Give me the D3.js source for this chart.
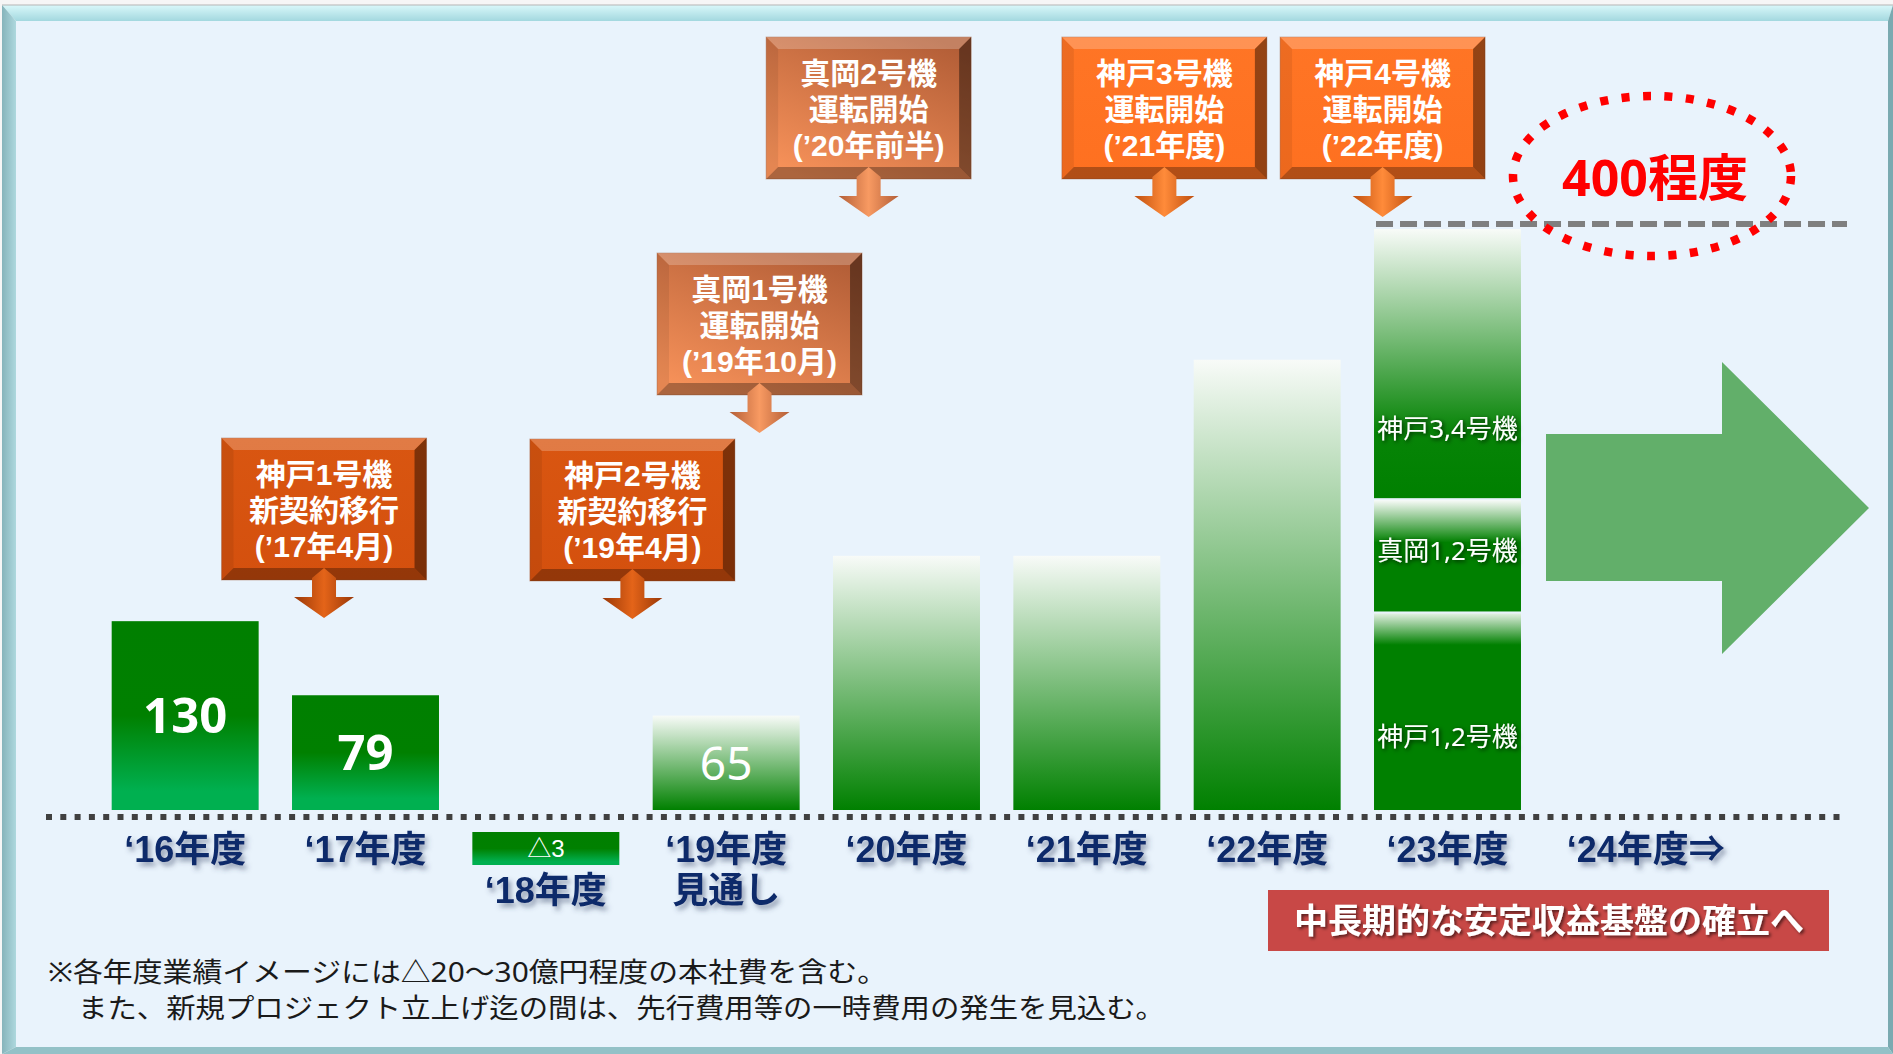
<!DOCTYPE html>
<html lang="ja">
<head>
<meta charset="utf-8">
<script src="https://cdn.jsdelivr.net/npm/d3@7"></script>
<style>
  body { margin: 0; background: #fff; }
  text { font-family: "Noto Sans", "Noto Sans CJK JP", sans-serif; }
  text.tight { font-family: "Liberation Sans", "Noto Sans CJK JP", sans-serif; }
</style>
</head>
<body>
<div id="chart"></div>
<script>
// ---- data ----
var years = ['16', '17', '18', '19', '20', '21', '22', '23', '24'];
var yearLabels = ['‘16年度', '‘17年度', '‘18年度', '‘19年度', '‘20年度', '‘21年度', '‘22年度', '‘23年度', '‘24年度'];
var yearSuffix = ['', '', '', '', '', '', '', '', '⇒'];
var subLabels = ['', '', '', '見通し', '', '', '', '', ''];
var barKind = ['実績', '実績', '実績', '見通し', '計画', '計画', '計画', '計画', ''];
var profit = [130, 79, -3, 65, 175, 175, 310, null, null];
var profitText = ['130', '79', '△3', '65', '', '', '', '', ''];

// '23年度 breakdown (bottom to top)
var stackYear = '23';
var stackUnits = ['神戸1,2号機', '真岡1,2号機', '神戸3,4号機'];
var stackValues = [136, 78, 186];

var targetValue = 400;
var targetLabel = '400程度';

var eventLines = [
  ['神戸1号機', '新契約移行', '(’17年4月)'],
  ['神戸2号機', '新契約移行', '(’19年4月)'],
  ['真岡1号機', '運転開始', '(’19年10月)'],
  ['真岡2号機', '運転開始', '(’20年前半)'],
  ['神戸3号機', '運転開始', '(’21年度)'],
  ['神戸4号機', '運転開始', '(’22年度)']
];
var eventKind = ['契約', '契約', '真岡', '真岡', '神戸', '神戸'];

var bannerText = '中長期的な安定収益基盤の確立へ';
var notes = [
  '※各年度業績イメージには△20～30億円程度の本社費を含む。',
  'また、新規プロジェクト立上げ迄の間は、先行費用等の一時費用の発生を見込む。'
];

// ---- layout ----
var W = 1893, H = 1054;
var calloutAt = [0.77, 2.48, 3.185, 3.79, 5.43, 6.64];   // in year-index units
var calloutTop = [438, 439, 253, 37, 37, 37];
var segLabelAt = [0.63, 0.46, 0.74];
var boxW = 205, boxH = 142, bev = 12;

var svg = d3.select('#chart').append('svg').attr('width', W).attr('height', H);
var defs = svg.append('defs');

function grad(id, x2, y2, stops, x1, y1) {
  var g = defs.append('linearGradient').attr('id', id)
    .attr('x1', x1 || 0).attr('y1', y1 || 0).attr('x2', x2).attr('y2', y2);
  stops.forEach(function (s) { g.append('stop').attr('offset', s[0]).attr('stop-color', s[1]); });
}
function shadow(id, dx, dy, sd, col, op) {
  defs.append('filter').attr('id', id).attr('x', '-20%').attr('y', '-30%').attr('width', '140%').attr('height', '170%')
    .append('feDropShadow').attr('dx', dx).attr('dy', dy).attr('stdDeviation', sd)
    .attr('flood-color', col).attr('flood-opacity', op);
}

grad('gActual', 0, 1, [[0, '#007F00'], [0.5, '#008000'], [0.9, '#00B050'], [1, '#00B050']]);
grad('gFade', 0, 1, [[0, '#F8FBF8'], [1, '#008000']]);
grad('gSeg0', 0, 1, [[0, '#E2F0E2'], [0.16, '#008000'], [1, '#008000']]);
grad('gSeg1', 0, 1, [[0, '#F8FBF8'], [0.38, '#008000'], [1, '#008000']]);
grad('gSeg2', 0, 1, [[0, '#F8FBF8'], [0.75, '#078407'], [1, '#008000']]);
grad('gFrameTop', 0, 1, [[0, '#D9F8FA'], [1, '#A3D8DF']]);
grad('gFrameLeft', 1, 0, [[0, '#86B4BB'], [1, '#AED8DE']]);
grad('box契約', 0, 1, [[0, '#D95611'], [1, '#D4500E']]);
grad('box真岡', 0.2, 1, [[0, '#B35E37'], [1, '#F69159']], 0.8, 0);
grad('box神戸', 0, 1, [[0, '#FF7525'], [1, '#FE7020']]);
grad('arr契約', 1, 0, [[0, '#9A3807'], [0.5, '#E46419'], [1, '#9A3807']]);
grad('arr真岡', 1, 0, [[0, '#B35E37'], [0.5, '#F89A62'], [1, '#B35E37']]);
grad('arr神戸', 1, 0, [[0, '#C0500F'], [0.5, '#FF8B3A'], [1, '#C0500F']]);

shadow('catShadow', 3, 4, 2.5, '#3a4a6a', 0.5);
shadow('segShadow', 1.5, 1.5, 2, '#000', 0.75);
shadow('whiteShadow', 2, 2, 1.5, '#000', 0.55);

// ---- frame ----
var ix0 = 16, iy0 = 21, ix1 = 1888, iy1 = 1047;
svg.append('rect').attr('width', W).attr('height', H).attr('fill', '#f6f6f6');
svg.append('rect').attr('x', ix0).attr('y', iy0).attr('width', ix1 - ix0).attr('height', iy1 - iy0).attr('fill', '#E9F3FC');
svg.append('path').attr('d', 'M2,5H' + W + 'L' + ix1 + ',' + iy0 + 'H' + ix0 + 'Z').attr('fill', 'url(#gFrameTop)');
svg.append('path').attr('d', 'M2,5L' + ix0 + ',' + iy0 + 'V' + iy1 + 'L2,' + H + 'Z').attr('fill', 'url(#gFrameLeft)');
svg.append('path').attr('d', 'M' + W + ',5V' + H + 'L' + ix1 + ',' + iy1 + 'V' + iy0 + 'Z').attr('fill', '#7AAAB1');
svg.append('path').attr('d', 'M2,' + H + 'L' + ix0 + ',' + iy1 + 'H' + ix1 + 'L' + W + ',' + H + 'Z').attr('fill', '#93C1C7');
svg.append('line').attr('x1', 2).attr('x2', W).attr('y1', 5).attr('y2', 5).attr('stroke', '#b5b5b5').attr('stroke-width', 1);

// ---- scales ----
var x = d3.scaleBand().domain(years).range([95, 1718]).paddingInner(0.185).paddingOuter(0.0925);
var y = d3.scaleLinear().domain([0, targetValue]).range([810, 229]);
var bw = x.bandwidth();
function cx(k) { return x(k) + bw / 2; }
var xi = d3.scaleLinear().domain([0, years.length - 1]).range([cx(years[0]), cx(years[years.length - 1])]);

// baseline (dotted)
svg.append('line').attr('x1', 46).attr('x2', 1840).attr('y1', y(0) + 7).attr('y2', y(0) + 7)
  .attr('stroke', '#404040').attr('stroke-width', 6).attr('stroke-dasharray', '6 8.3');

// ---- bars ----
var barData = years.map(function (k, i) {
  return { year: k, v: profit[i], text: profitText[i], kind: barKind[i] };
});
var posBars = barData.filter(function (d) { return d.v != null && d.v > 0; });
var gBars = svg.append('g');
gBars.selectAll('rect').data(posBars).enter().append('rect')
  .attr('x', function (d) { return x(d.year); })
  .attr('y', function (d) { return y(d.v); })
  .attr('width', bw)
  .attr('height', function (d) { return y(0) - y(d.v); })
  .attr('fill', function (d) { return d.kind === '実績' ? 'url(#gActual)' : 'url(#gFade)'; });
gBars.selectAll('text').data(posBars.filter(function (d) { return d.text; })).enter().append('text')
  .attr('x', function (d) { return cx(d.year); })
  .attr('y', function (d) { return (y(d.v) + y(0)) / 2 + 17; })
  .attr('text-anchor', 'middle')
  .attr('font-size', function (d) { return d.kind === '実績' ? 49 : 46; })
  .attr('font-weight', function (d) { return d.kind === '実績' ? 700 : 400; })
  .attr('fill', '#fff')
  .text(function (d) { return d.text; });

// negative result shown as a tag under the axis
var negBars = barData.filter(function (d) { return d.v != null && d.v < 0; });
negBars.forEach(function (d) {
  svg.append('rect').attr('x', x(d.year)).attr('y', y(0) + 22).attr('width', bw).attr('height', 33)
    .attr('fill', 'url(#gActual)');
  svg.append('text').attr('class', 'tight').attr('x', cx(d.year)).attr('y', y(0) + 47).attr('text-anchor', 'middle')
    .attr('font-size', 24).attr('fill', '#fff').text(d.text);
});

// stacked '23
var cum = 0;
var segs = stackValues.map(function (v, i) {
  var s = { y0: cum, y1: cum + v, name: stackUnits[i], i: i };
  cum += v;
  return s;
});
var gStack = svg.append('g');
gStack.selectAll('rect').data(segs).enter().append('rect')
  .attr('x', x(stackYear))
  .attr('y', function (d) { return y(d.y1) + (d.i === segs.length - 1 ? 0 : 1); })
  .attr('width', bw)
  .attr('height', function (d) { return y(d.y0) - y(d.y1) - (d.i === segs.length - 1 ? 0 : 1) - (d.i === 0 ? 0 : 1); })
  .attr('fill', function (d) { return 'url(#gSeg' + d.i + ')'; });
gStack.selectAll('text').data(segs).enter().append('text')
  .attr('x', cx(stackYear))
  .attr('y', function (d) { return y(d.y1) + segLabelAt[d.i] * (y(d.y0) - y(d.y1)) + 9; })
  .attr('text-anchor', 'middle').attr('font-size', 26).attr('fill', '#fff')
  .attr('filter', 'url(#segShadow)')
  .text(function (d) { return d.name; });

// ---- year labels ----
var gLab = svg.append('g').attr('fill', '#102A6A').attr('font-weight', 700).attr('font-size', 36)
  .attr('filter', 'url(#catShadow)');
barData.forEach(function (d, i) {
  var row = d.v != null && d.v < 0 ? 1 : 0;
  var t = gLab.append('text').attr('class', 'tight').attr('x', cx(d.year)).attr('y', 862 + row * 41)
    .attr('text-anchor', 'middle').text(yearLabels[i]);
  if (yearSuffix[i]) {
    var w = t.node().getComputedTextLength();
    gLab.append('text').attr('class', 'tight').attr('x', cx(d.year) + w / 2).attr('y', 862).text(yearSuffix[i]);
  }
  if (subLabels[i]) {
    gLab.append('text').attr('class', 'tight').attr('x', cx(d.year)).attr('y', 903)
      .attr('text-anchor', 'middle').text(subLabels[i]);
  }
});

// ---- target line and ellipse ----
svg.append('line').attr('x1', x(stackYear) + 2).attr('x2', 1847).attr('y1', y(targetValue) - 5).attr('y2', y(targetValue) - 5)
  .attr('stroke', '#7F7F7F').attr('stroke-width', 6).attr('stroke-dasharray', '17 7');
svg.append('ellipse').attr('cx', 1652).attr('cy', y(targetValue) - 53).attr('rx', 139).attr('ry', 80)
  .attr('fill', 'none').attr('stroke', '#FF0000').attr('stroke-width', 8.5).attr('stroke-dasharray', '8 13.5');
svg.append('text').attr('x', 1655).attr('y', y(targetValue) - 33).attr('text-anchor', 'middle')
  .attr('font-size', 50).attr('font-weight', 700).attr('fill', '#FF0000').text(targetLabel);

// ---- callouts ----
eventLines.forEach(function (lines, i) {
  var k = eventKind[i];
  var c = xi(calloutAt[i]);
  var x0 = c - boxW / 2, y0 = calloutTop[i];
  var g = svg.append('g');
  g.append('rect').attr('x', x0).attr('y', y0).attr('width', boxW).attr('height', boxH)
    .attr('fill', 'url(#box' + k + ')').attr('stroke', '#a06040').attr('stroke-opacity', 0.4);
  var b = bev, w = boxW, h = boxH;
  g.append('path').attr('d', 'M' + x0 + ',' + y0 + 'h' + w + 'l' + (-b) + ',' + b + 'h' + (-(w - 2 * b)) + 'z')
    .attr('fill', '#fff').attr('opacity', 0.22);
  g.append('path').attr('d', 'M' + x0 + ',' + y0 + 'l' + b + ',' + b + 'v' + (h - 2 * b) + 'l' + (-b) + ',' + b + 'z')
    .attr('fill', '#000').attr('opacity', 0.07);
  g.append('path').attr('d', 'M' + (x0 + w) + ',' + y0 + 'v' + h + 'l' + (-b) + ',' + (-b) + 'v' + (-(h - 2 * b)) + 'z')
    .attr('fill', '#000').attr('opacity', 0.42);
  g.append('path').attr('d', 'M' + x0 + ',' + (y0 + h) + 'h' + w + 'l' + (-b) + ',' + (-b) + 'h' + (-(w - 2 * b)) + 'z')
    .attr('fill', '#000').attr('opacity', 0.3);
  lines.forEach(function (ln, j) {
    g.append('text').attr('class', 'tight').attr('x', c).attr('y', y0 + 47 + j * 36).attr('text-anchor', 'middle')
      .attr('font-size', 30).attr('font-weight', 700).attr('fill', '#fff').text(ln);
  });
  // arrow
  var yb = y0 + boxH, tip = yb + 38, headTop = tip - 21;
  g.append('path')
    .attr('d', 'M' + (c - 12) + ',' + (yb - 2) + 'L' + c + ',' + (yb - 12) + 'L' + (c + 12) + ',' + (yb - 2) +
      'V' + headTop + 'H' + (c + 30) + 'L' + c + ',' + tip + 'L' + (c - 30) + ',' + headTop + 'H' + (c - 12) + 'Z')
    .attr('fill', 'url(#arr' + k + ')');
});

// ---- big arrow ----
svg.append('path').attr('d', 'M1546,434H1722V362L1869,508L1722,654V581H1546Z').attr('fill', '#62AF6A');

// ---- banner ----
svg.append('rect').attr('x', 1268).attr('y', 890).attr('width', 561).attr('height', 61).attr('fill', '#C84846');
svg.append('text').attr('x', 1549).attr('y', 933).attr('text-anchor', 'middle').attr('font-size', 34)
  .attr('font-weight', 700).attr('fill', '#fff').attr('filter', 'url(#whiteShadow)').text(bannerText);

// ---- notes ----
var noteX = [48, 78], noteY = [982, 1018], noteLen = [839, 1087];
notes.forEach(function (t, i) {
  svg.append('text').attr('x', noteX[i]).attr('y', noteY[i]).attr('font-size', 27).attr('fill', '#1a1a1a')
    .attr('textLength', noteLen[i]).attr('lengthAdjust', 'spacingAndGlyphs').text(t);
});
</script>
</body>
</html>
